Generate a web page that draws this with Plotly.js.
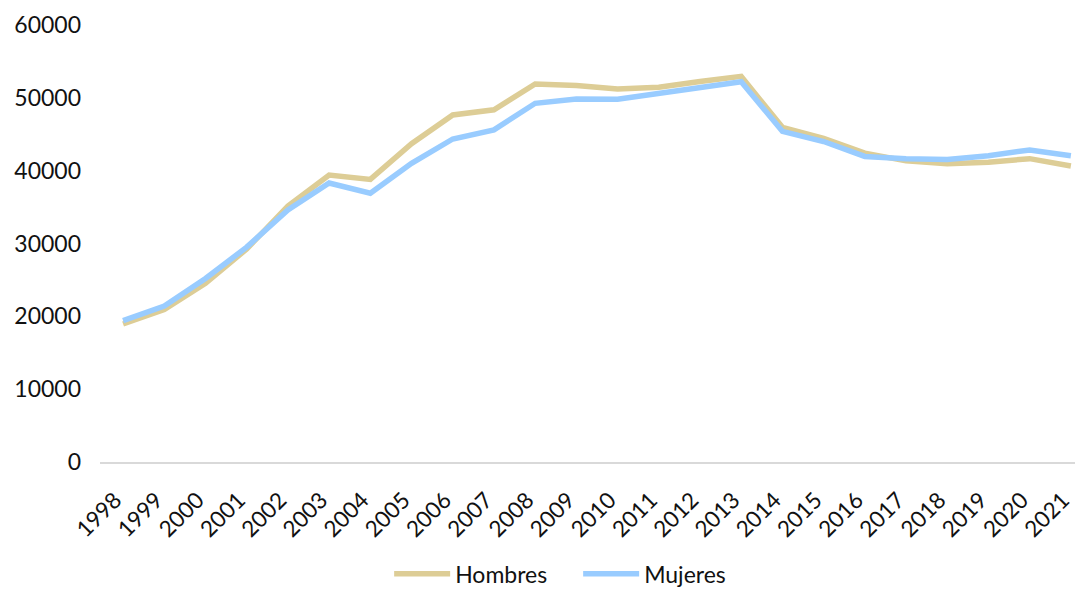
<!DOCTYPE html>
<html>
<head>
<meta charset="utf-8">
<script src="https://cdn.plot.ly/plotly-3.0.1.min.js"></script>
<style>
  html, body { margin: 0; padding: 0; background: #ffffff; }
  #chart { width: 1075px; height: 589px; }
</style>
</head>
<body>
<div id="chart"></div>
<script>
// Years on the category axis
const years = ['1998','1999','2000','2001','2002','2003','2004','2005','2006','2007','2008','2009',
               '2010','2011','2012','2013','2014','2015','2016','2017','2018','2019','2020','2021'];

// Series values
const hombres = [18950, 20950, 24550, 29250, 35150, 39400, 38800, 43700, 47650, 48350, 51900, 51700,
                 51200, 51450, 52250, 52950, 45950, 44450, 42400, 41350, 40950, 41150, 41650, 40650];
const mujeres = [19400, 21400, 25200, 29500, 34600, 38300, 36900, 41000, 44350, 45600, 49250, 49850,
                 49800, 50650, 51450, 52200, 45400, 44000, 41950, 41650, 41550, 42050, 42850, 42050];

const yTicks = [0, 10000, 20000, 30000, 40000, 50000, 60000];

const FONT = 'Lato, "Noto Sans", sans-serif';

const traces = [
  {
    x: years, y: hombres, name: 'Hombres', type: 'scatter', mode: 'lines',
    line: { color: '#DDCD96', width: 5.5 }
  },
  {
    x: years, y: mujeres, name: 'Mujeres', type: 'scatter', mode: 'lines',
    line: { color: '#99CCFF', width: 5.5 }
  }
];

const layout = {
  width: 1075, height: 589,
  margin: { l: 100, r: 0, t: 25, b: 127 },
  paper_bgcolor: '#ffffff', plot_bgcolor: '#ffffff',
  font: { family: FONT, size: 23, color: '#111111' },
  showlegend: true,
  legend: {
    orientation: 'h', xref: 'container', yref: 'container',
    x: 0.362, xanchor: 'left', y: 0.026, yanchor: 'middle',
    font: { family: FONT, size: 23, color: '#111111' },
    itemwidth: 56, entrywidth: 118, tracegroupgap: 0
  },
  xaxis: {
    type: 'category', range: [-0.56, 23.1], automargin: false,
    showgrid: false, zeroline: false,
    showline: true, linecolor: '#d9d9d9', linewidth: 2,
    ticks: '', tickangle: -45, ticklabelstandoff: 14, ticklabelshift: -8,
    tickfont: { family: FONT, size: 22.5, color: '#111111' }
  },
  yaxis: {
    range: [0, 60000], tickvals: yTicks, ticktext: yTicks.map(String), automargin: false,
    showgrid: false, zeroline: false, showline: false,
    ticks: '', ticklabelstandoff: 18,
    tickfont: { family: FONT, size: 23, color: '#111111' }
  }
};

Plotly.newPlot('chart', traces, layout, { displayModeBar: false, staticPlot: true });
</script>
</body>
</html>
